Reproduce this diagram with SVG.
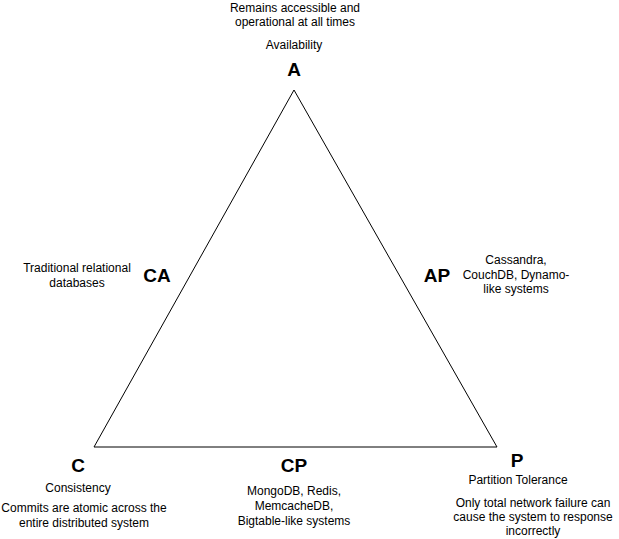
<svg xmlns="http://www.w3.org/2000/svg" width="619" height="539" viewBox="0 0 619 539">
<style>
.t{font-family:"Liberation Sans",Arial,sans-serif;font-size:12px;fill:#000;text-anchor:middle}
.b{font-family:"Liberation Sans",Arial,sans-serif;font-size:19px;font-weight:bold;fill:#000;text-anchor:middle}
</style>
<rect width="619" height="539" fill="#fff"/>
<g id="connectors">
<path d="M294 90 L94 447 L497 447 Z" fill="none" stroke="#000" stroke-width="1"/>
</g>
<g id="A">
<text class="t" x="295" y="12">Remains accessible and</text>
<text class="t" x="295" y="26">operational at all times</text>
<text class="t" x="294" y="49">Availability</text>
<text class="b" x="294" y="76">A</text>
</g>
<g id="CA">
<text class="t" x="77" y="272">Traditional relational</text>
<text class="t" x="77" y="287">databases</text>
<text class="b" x="157" y="282">CA</text>
</g>
<g id="AP">
<text class="b" x="437" y="282">AP</text>
<text class="t" x="516" y="264">Cassandra,</text>
<text class="t" x="516" y="279">CouchDB, Dynamo-</text>
<text class="t" x="516" y="293">like systems</text>
</g>
<g id="C">
<text class="b" x="78" y="472">C</text>
<text class="t" x="78" y="492">Consistency</text>
<text class="t" x="84" y="512">Commits are atomic across the</text>
<text class="t" x="84" y="527">entire distributed system</text>
</g>
<g id="CP">
<text class="b" x="294" y="472">CP</text>
<text class="t" x="294" y="495">MongoDB, Redis,</text>
<text class="t" x="294" y="510">MemcacheDB,</text>
<text class="t" x="294" y="525">Bigtable-like systems</text>
</g>
<g id="P">
<text class="b" x="517" y="467">P</text>
<text class="t" x="518" y="484">Partition Tolerance</text>
<text class="t" x="533" y="507">Only total network failure can</text>
<text class="t" x="533" y="521">cause the system to response</text>
<text class="t" x="533" y="535">incorrectly</text>
</g>
</svg>
